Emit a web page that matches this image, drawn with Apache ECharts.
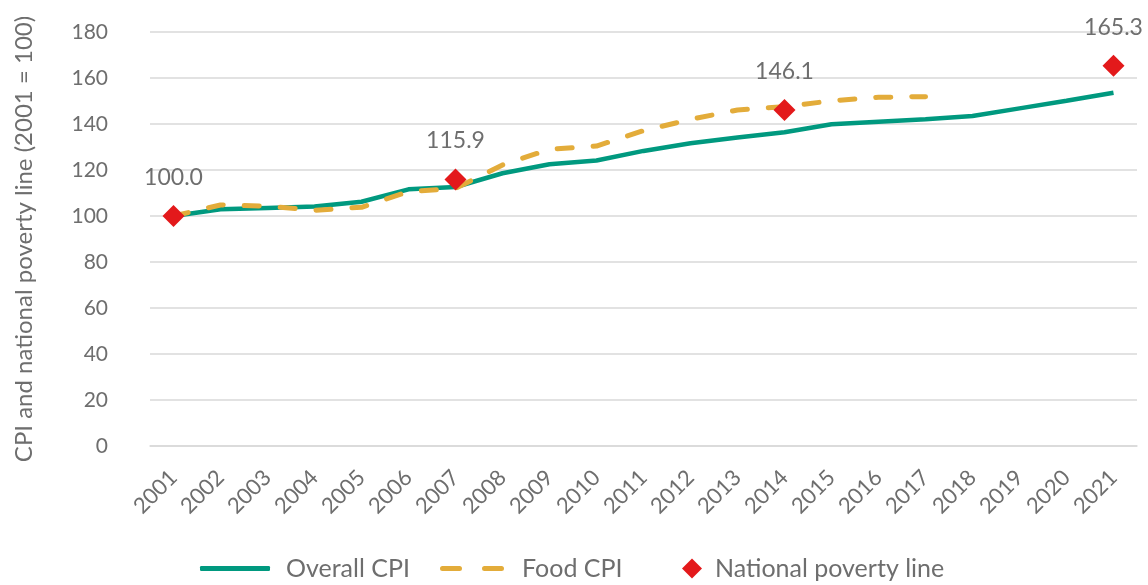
<!DOCTYPE html>
<html>
<head>
<meta charset="utf-8">
<script src="https://cdn.jsdelivr.net/npm/echarts@6/dist/echarts.min.js"></script>
<style>html,body{margin:0;padding:0;background:#fff}#c{width:1148px;height:585px}</style>
</head>
<body>
<div id="c"></div>
<script>
const years = ['2001','2002','2003','2004','2005','2006','2007','2008','2009','2010','2011','2012','2013','2014','2015','2016','2017','2018','2019','2020','2021'];
const overallCPI = [100, 102.9, 103.5, 104.1, 106.2, 111.6, 112.6, 118.6, 122.5, 124.1, 128.3, 131.6, 134.1, 136.4, 139.9, 141.0, 142.1, 143.5, 146.8, 150.1, 153.6];
const foodCPI = [100, 104.8, 104.3, 102.5, 103.8, 110.6, 112.0, 122.2, 129.0, 130.4, 137.1, 142.0, 146.1, 147.5, 150.1, 151.6, 151.9, null, null, null, null];
const povertyLine = [100.0, null, null, null, null, null, 115.9, null, null, null, null, null, null, 146.1, null, null, null, null, null, null, 165.3];
const yTicks = [0, 20, 40, 60, 80, 100, 120, 140, 160, 180];
const seriesNames = ['Overall CPI', 'Food CPI', 'National poverty line'];

const FONT = 'Lato, "Open Sans", sans-serif';
const GREY = '#6e6e6e';
const TEAL = '#00997f', GOLD = '#e3ac3a', RED = '#e3191b';
const dashIcon = 'path://M2.5,0H19.5A2.5,2.5 0 0 1 19.5,5H2.5A2.5,2.5 0 0 1 2.5,0Z M44.5,0H61.5A2.5,2.5 0 0 1 61.5,5H44.5A2.5,2.5 0 0 1 44.5,0Z';
const legendBase = {top: 556, padding: 0, selectedMode: false};
const legendText = pad => ({color: GREY, fontSize: 25, fontFamily: FONT, padding: [0, 0, 0, pad]});

const chart = echarts.init(document.getElementById('c'));
chart.setOption({
  animation: false,
  textStyle: {fontFamily: FONT},
  grid: {left: 150, right: 11, top: 32, bottom: 139},
  xAxis: {
    type: 'category', data: years, boundaryGap: true,
    axisLine: {lineStyle: {color: '#d9d9d9', width: 1.5}},
    axisTick: {show: false},
    axisLabel: {rotate: 45, color: GREY, fontSize: 22, fontFamily: FONT, margin: 28, interval: 0}
  },
  yAxis: {
    type: 'value', min: yTicks[0], max: yTicks[yTicks.length - 1], interval: 20,
    name: 'CPI and national poverty line (2001 = 100)', nameLocation: 'middle', nameGap: 114,
    nameTextStyle: {color: GREY, fontSize: 24, fontFamily: FONT},
    axisLine: {show: false}, axisTick: {show: false},
    axisLabel: {color: GREY, fontSize: 21, fontFamily: FONT, margin: 42},
    splitLine: {lineStyle: {color: '#d9d9d9', width: 1.5}}
  },
  legend: [
    Object.assign({}, legendBase, {left: 200, itemWidth: 70, itemHeight: 5, textStyle: legendText(11),
      data: [{name: seriesNames[0], icon: 'roundRect'}]}),
    Object.assign({}, legendBase, {left: 440, itemWidth: 64, itemHeight: 5, textStyle: legendText(13),
      data: [{name: seriesNames[1], icon: dashIcon}]}),
    Object.assign({}, legendBase, {left: 682, itemWidth: 20, itemHeight: 20, textStyle: legendText(8),
      data: [{name: seriesNames[2], icon: 'diamond'}]})
  ],
  series: [
    {
      name: seriesNames[0], type: 'line', data: overallCPI, symbol: 'none',
      lineStyle: {color: TEAL, width: 4.5},
      itemStyle: {color: TEAL}
    },
    {
      name: seriesNames[1], type: 'line', data: foodCPI, symbol: 'none',
      lineStyle: {color: GOLD, width: 5, type: [15, 21], cap: 'round'},
      itemStyle: {color: GOLD}
    },
    {
      name: seriesNames[2], type: 'scatter', symbol: 'diamond', symbolSize: 22,
      itemStyle: {color: RED, opacity: 1},
      data: povertyLine,
      label: {
        show: true, position: 'top', distance: 16, color: GREY, fontSize: 23, fontFamily: FONT,
        formatter: p => p.value.toFixed(1)
      },
      z: 5
    }
  ]
});
</script>
</body>
</html>
